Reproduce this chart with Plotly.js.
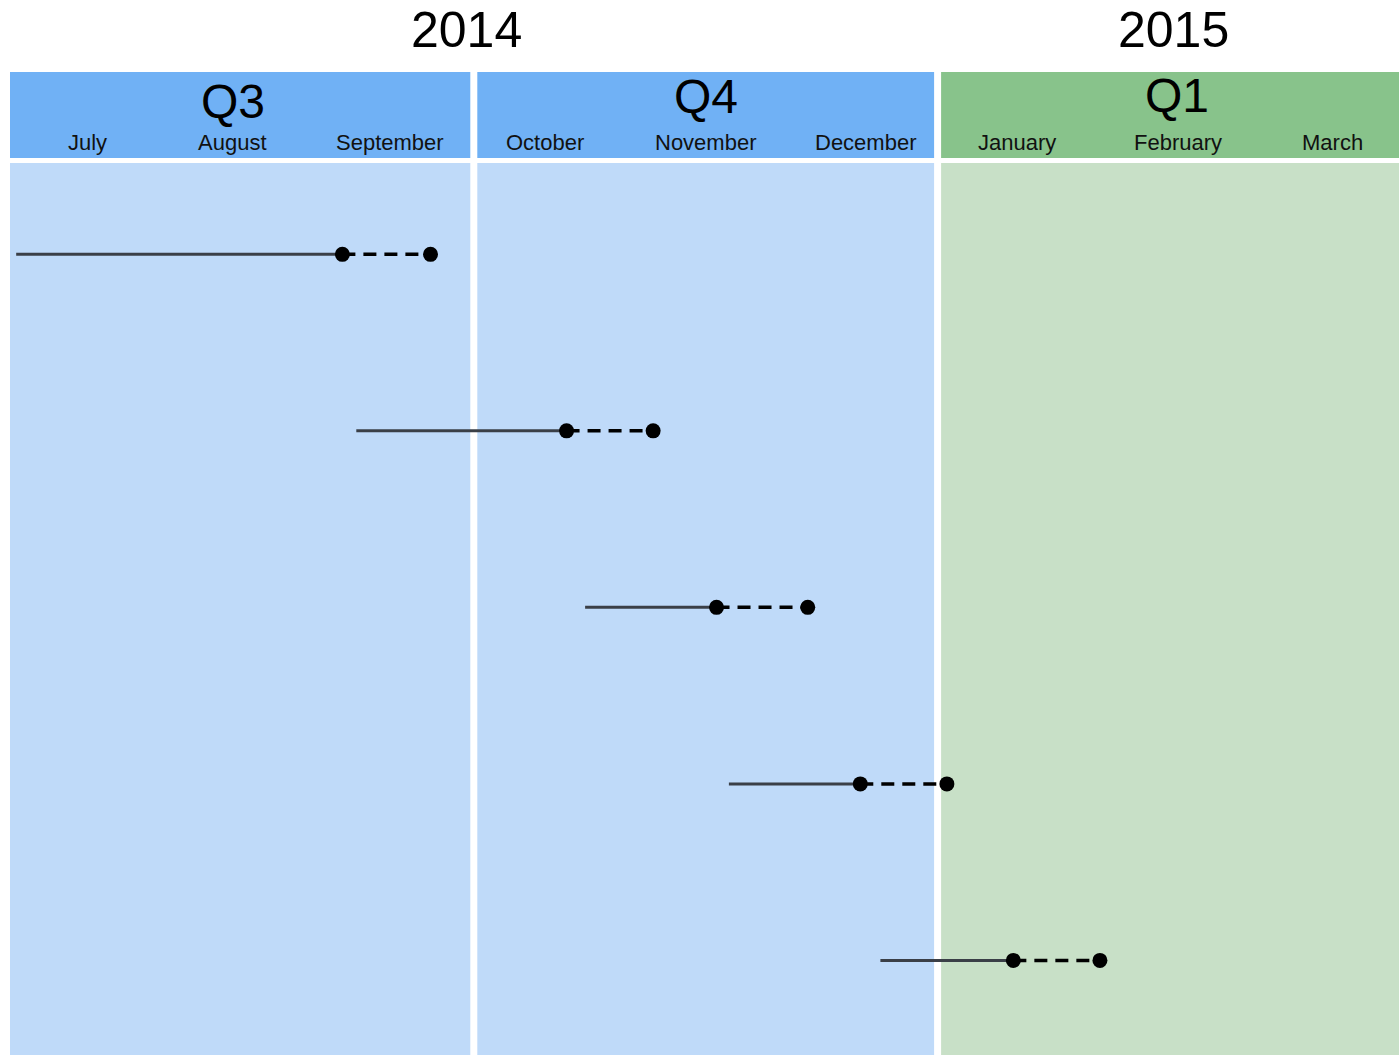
<!DOCTYPE html>
<html>
<head>
<meta charset="utf-8">
<script src="https://cdn.plot.ly/plotly-3.0.1.min.js"></script>
<style>html,body{margin:0;padding:0;background:#fff;}#chart{width:1399px;height:1055px;}</style>
</head>
<body>
<div id="chart"></div>
<script>
// ---- data (x in months since 1 July 2014) ----
const years = ['2014', '2015'];
const yearStart = [0, 6];
const yearEnd = [6, 9];
const quarters = ['Q3', 'Q4', 'Q1'];
const quarterStart = [0, 3, 6];
const quarterYear = [0, 0, 1];
const months = ['July', 'August', 'September', 'October', 'November', 'December', 'January', 'February', 'March'];
const rows = [1, 2, 3, 4, 5];
const taskStart = [0.04, 2.24, 3.72, 4.65, 5.63];
const taskCurrent = [2.15, 3.60, 4.57, 5.50, 6.49];
const taskEnd = [2.72, 4.16, 5.16, 6.06, 7.05];

// ---- styles / layout helpers ----
const headerColors = ['#70b1f5', '#88c38b'];
const bodyColors = ['#bfdaf9', '#c8e0c7'];
const FONT = '"Liberation Sans", Arial, sans-serif';
const yearShift = [-7, 4];
const quarterXShift = [-9, 0, 7];
const quarterYShift = [-3, 2, 3];
const monthShift = [0, -9, -7, -6, 0, 5, 2, 8, 8];

// traces
const solidX = [], solidY = [], dashX = [], dashY = [];
rows.forEach((r, i) => {
  solidX.push(taskStart[i], taskCurrent[i], null);
  solidY.push(r, r, null);
  dashX.push(taskCurrent[i], taskEnd[i], null);
  dashY.push(r, r, null);
});

const traces = [
  {x: solidX, y: solidY, mode: 'lines', type: 'scatter', connectgaps: false,
   line: {color: '#3a3f47', width: 3}, hoverinfo: 'skip', showlegend: false},
  {x: dashX, y: dashY, mode: 'lines+markers', type: 'scatter', connectgaps: false,
   line: {color: '#000', width: 3.5, dash: '13px,8px'},
   marker: {color: '#000', size: 15}, hoverinfo: 'skip', showlegend: false}
];

const hdrY0 = 1 - 158 / 1055, hdrY1 = 1 - 72 / 1055, bodyY1 = 1 - 163 / 1055;
const shapes = [];
quarters.forEach((q, i) => {
  const c = quarterYear[i];
  shapes.push({type: 'rect', xref: 'x', yref: 'paper', x0: quarterStart[i], x1: quarterStart[i] + 3,
    y0: hdrY0, y1: hdrY1, fillcolor: headerColors[c], line: {width: 0}, layer: 'below'});
  shapes.push({type: 'rect', xref: 'x', yref: 'paper', x0: quarterStart[i], x1: quarterStart[i] + 3,
    y0: -0.01, y1: bodyY1, fillcolor: bodyColors[c], line: {width: 0}, layer: 'below'});
});
quarterStart.slice(1).forEach(s => {
  shapes.push({type: 'line', xref: 'x', yref: 'paper', x0: s, x1: s, y0: -0.01, y1: hdrY1,
    line: {color: '#ffffff', width: 7}, layer: 'below'});
});

const annotations = [];
years.forEach((y, i) => {
  annotations.push({text: y, xref: 'x', yref: 'paper', x: (yearStart[i] + yearEnd[i]) / 2, y: 1 - 30 / 1055,
    xshift: yearShift[i], showarrow: false, xanchor: 'center', yanchor: 'middle',
    font: {family: FONT, size: 50, color: '#000'}});
});
quarters.forEach((q, i) => {
  annotations.push({text: q, xref: 'x', yref: 'paper', x: quarterStart[i] + 1.5, y: 1 - 99 / 1055,
    xshift: quarterXShift[i], yshift: quarterYShift[i], showarrow: false, xanchor: 'center', yanchor: 'middle',
    font: {family: FONT, size: 48, color: '#000'}});
});
months.forEach((m, i) => {
  annotations.push({text: m, xref: 'x', yref: 'paper', x: i + 0.5, y: 1 - 143 / 1055,
    xshift: monthShift[i], showarrow: false, xanchor: 'center', yanchor: 'middle',
    font: {family: FONT, size: 22, color: '#111'}});
});

const layout = {
  width: 1399, height: 1055,
  margin: {l: 0, r: 0, t: 0, b: 0, pad: 0},
  paper_bgcolor: '#ffffff', plot_bgcolor: '#ffffff',
  xaxis: {range: [-10 / 154.6, 1389 / 154.6], showgrid: false, zeroline: false, showticklabels: false,
          showline: false, ticks: '', fixedrange: true},
  yaxis: {range: [5.536, -0.441], showgrid: false, zeroline: false, showticklabels: false,
          showline: false, ticks: '', fixedrange: true},
  shapes: shapes,
  annotations: annotations,
  showlegend: false
};

Plotly.newPlot('chart', traces, layout, {displayModeBar: false, staticPlot: true});
</script>
</body>
</html>
